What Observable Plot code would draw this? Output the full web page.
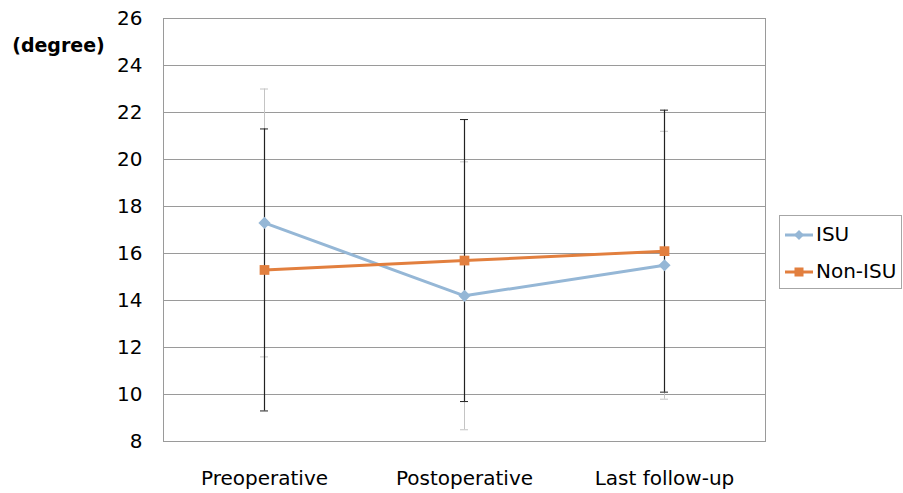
<!DOCTYPE html>
<html>
<head>
<meta charset="utf-8">
<script src="https://cdn.jsdelivr.net/npm/d3@7"></script>
<script src="https://cdn.jsdelivr.net/npm/@observablehq/plot@0.6"></script>
<style>
  body { margin: 0; background: #fff; }
  #wrap { position: relative; width: 903px; height: 493px; font-family: "DejaVu Sans", sans-serif; }
  #legend { position: absolute; left: 779px; top: 215px; width: 123px; height: 74px; border: 1px solid #a6a6a6; box-sizing: border-box; background: #fff; font-size: 20px; }
  .item { position: absolute; left: 5px; display: flex; align-items: center; line-height: 23px; }
  .item svg { margin-right: 3px; }
</style>
</head>
<body>
<div id="wrap"></div>
<script>
const categories = ["Preoperative", "Postoperative", "Last follow-up"];
const isuMean = [17.3, 14.2, 15.5];
const isuSD = [5.7, 5.7, 5.7];
const nonIsuMean = [15.3, 15.7, 16.1];
const nonIsuSD = [6.0, 6.0, 6.0];
const yTicks = [8, 10, 12, 14, 16, 18, 20, 22, 24, 26];
const seriesNames = ["ISU", "Non-ISU"];
const colorISU = "#95b7d6";
const colorNon = "#e27f3e";

const isu = categories.map((c, i) => ({cat: c, mean: isuMean[i], lo: isuMean[i] - isuSD[i], hi: isuMean[i] + isuSD[i]}));
const non = categories.map((c, i) => ({cat: c, mean: nonIsuMean[i], lo: nonIsuMean[i] - nonIsuSD[i], hi: nonIsuMean[i] + nonIsuSD[i]}));
const caps = (arr, key) => arr.map(d => ({cat: d.cat, v: d[key]}));

const capOpts = (color) => ({x1: "cat", x2: "cat", y: "v", stroke: color, insetLeft: -4, insetRight: -4});

const chart = Plot.plot({
  width: 903,
  height: 493,
  marginLeft: 163,
  marginRight: 138,
  marginTop: 18,
  marginBottom: 52,
  style: {fontFamily: "DejaVu Sans, sans-serif", fontSize: "20px", color: "#000", background: "#fff"},
  x: {type: "point", domain: categories, padding: 0.5, label: null, tickSize: 0, tickPadding: 29},
  y: {domain: [8, 26], ticks: yTicks, label: null, tickSize: 0, tickPadding: 21},
  marks: [
    Plot.ruleY(yTicks, {stroke: "#9a9a9a", strokeWidth: 1}),
    Plot.frame({stroke: "#9a9a9a"}),
    // ISU error bars (light)
    Plot.ruleX(isu, {x: "cat", y1: "lo", y2: "hi", stroke: "#c4c4c4", strokeWidth: 1}),
    Plot.ruleY(caps(isu, "lo"), capOpts("#c4c4c4")),
    Plot.ruleY(caps(isu, "hi"), capOpts("#c4c4c4")),
    // Non-ISU error bars (dark)
    Plot.ruleX(non, {x: "cat", y1: "lo", y2: "hi", stroke: "#222", strokeWidth: 1.2}),
    Plot.ruleY(caps(non, "lo"), capOpts("#222")),
    Plot.ruleY(caps(non, "hi"), capOpts("#222")),
    // lines
    Plot.line(isu, {x: "cat", y: "mean", stroke: colorISU, strokeWidth: 3}),
    Plot.line(non, {x: "cat", y: "mean", stroke: colorNon, strokeWidth: 3}),
    Plot.dot(isu, {x: "cat", y: "mean", symbol: "diamond2", r: 5.5, fill: colorISU, stroke: "none"}),
    Plot.dot(non, {x: "cat", y: "mean", symbol: "square", r: 5.5, fill: colorNon, stroke: "none"}),
    Plot.text(["(degree)"], {frameAnchor: "top-left", dx: -105, dy: 20, textAnchor: "middle", fontWeight: "bold", fontSize: 19, fill: "#000"})
  ]
});
const wrap = document.getElementById("wrap");
wrap.appendChild(chart);

const legend = document.createElement("div");
legend.id = "legend";
const colors = [colorISU, colorNon];
const syms = [
  '<polygon points="14,-5 19,0 14,5 9,0" />',
  '<rect x="9.5" y="-4.5" width="9" height="9" />'
];
seriesNames.forEach((name, i) => {
  const item = document.createElement("div");
  item.className = "item";
  item.style.top = (i === 0 ? 7 : 44) + "px";
  item.innerHTML = `<svg width="28" height="14" viewBox="0 -7 28 14"><line x1="0" x2="28" y1="0" y2="0" stroke="${colors[i]}" stroke-width="3"/><g fill="${colors[i]}">${syms[i]}</g></svg><span>${name}</span>`;
  legend.appendChild(item);
});
wrap.appendChild(legend);
</script>
</body>
</html>
